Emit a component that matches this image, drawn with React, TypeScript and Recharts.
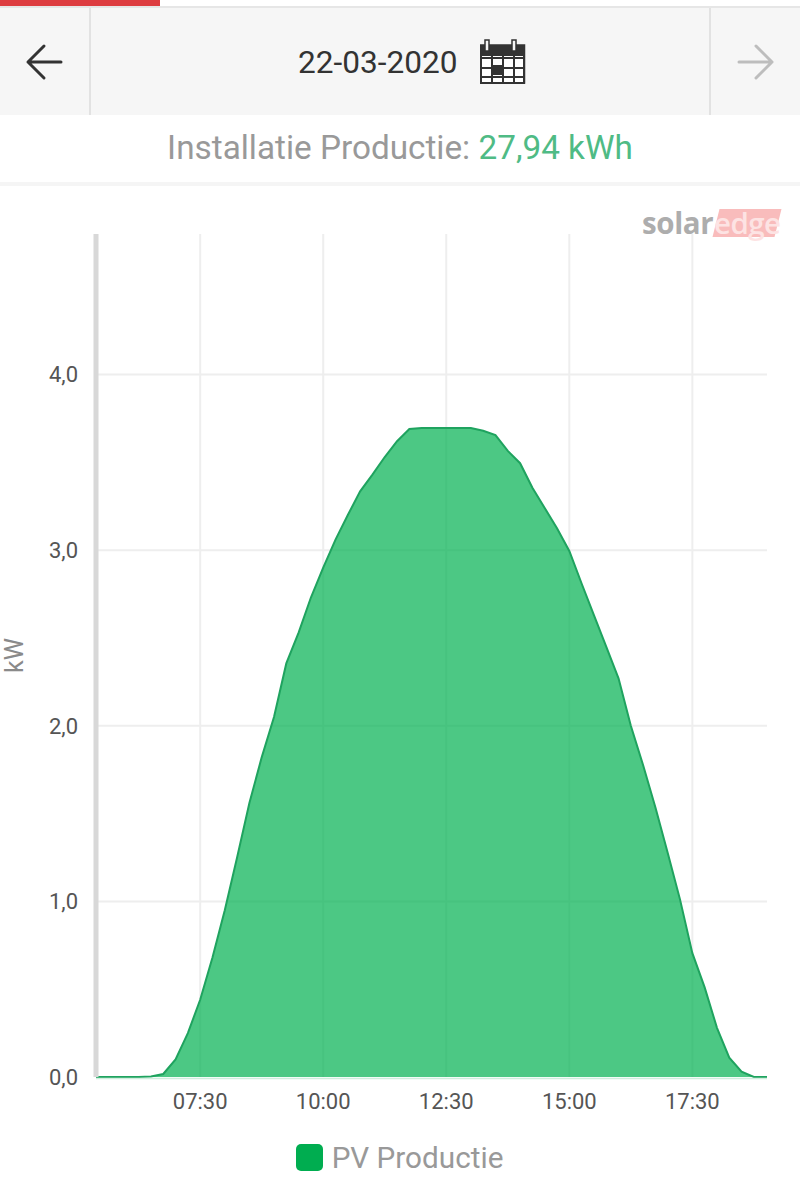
import React from "react";
import { ComposedChart, Area, XAxis, YAxis, CartesianGrid, Legend } from "recharts";

const times = ["05:23","06:15","06:30","06:45","07:00","07:15","07:30","07:45","08:00","08:15","08:30","08:45","09:00","09:15","09:30","09:45","10:00","10:15","10:30","10:45","11:00","11:15","11:30","11:45","12:00","12:15","12:30","12:45","13:00","13:15","13:30","13:45","14:00","14:15","14:30","14:45","15:00","15:15","15:30","15:45","16:00","16:15","16:30","16:45","17:00","17:15","17:30","17:45","18:00","18:15","18:30","18:45","19:01"];
const production = [0,0,0.003,0.017,0.10,0.25,0.44,0.68,0.95,1.25,1.56,1.82,2.05,2.355,2.53,2.73,2.90,3.06,3.20,3.335,3.43,3.53,3.62,3.69,3.695,3.695,3.695,3.695,3.695,3.68,3.655,3.565,3.495,3.355,3.24,3.125,2.995,2.81,2.63,2.45,2.27,2.0,1.775,1.535,1.275,1.01,0.705,0.51,0.28,0.11,0.03,0,0];
const xTickLabels = ["07:30","10:00","12:30","15:00","17:30"];
const yTicks = [0,1,2,3,4];
const gridYValues = [1,2,3,4];
const seriesName = "PV Productie";
const dateLabel = "22-03-2020";
const summaryLabel = "Installatie Productie:";
const summaryValue = "27,94 kWh";

const toMinutes = (s: string) => { const [h, m] = s.split(":").map(Number); return h * 60 + m; };
const pad = (n: number) => String(n).padStart(2, "0");
const toLabel = (v: number) => `${pad(Math.floor(v / 60))}:${pad(v % 60)}`;
const data = times.map((t, i) => ({ t: toMinutes(t), kw: production[i] }));

const font = "Roboto, sans-serif";
const abs = (s: React.CSSProperties): React.CSSProperties => ({ position: "absolute", ...s });

function Arrow({ x, color, flip }: { x: number; color: string; flip?: boolean }) {
  return (
    <svg width={40} height={40} style={abs({ left: x, top: 42, transform: flip ? "scaleX(-1)" : undefined })}>
      <path d="M36 20H3M19 4L3 20L19 36" fill="none" stroke={color} strokeWidth={3} strokeLinecap="round" strokeLinejoin="round" />
    </svg>
  );
}

function CalendarIcon() {
  const cols = [1, 12, 23, 34, 44];
  const rows = [19, 29, 38, 44];
  return (
    <svg width={46} height={46} style={abs({ left: 480, top: 39 })}>
      <rect x={0.5} y={6} width={44} height={38} fill="#fff" stroke="#333" strokeWidth={1.5} />
      <rect x={0} y={6} width={45} height={11} fill="#333" />
      <rect x={5} y={1} width={4} height={11} fill="#f6f6f6" stroke="#333" strokeWidth={1.5} />
      <rect x={32} y={1} width={4} height={11} fill="#f6f6f6" stroke="#333" strokeWidth={1.5} />
      {cols.map((c) => <line key={c} x1={c} x2={c} y1={17} y2={44} stroke="#333" strokeWidth={2} />)}
      {rows.map((r) => <line key={r} x1={0} x2={45} y1={r} y2={r} stroke="#333" strokeWidth={2} />)}
      <rect x={12} y={26} width={11} height={10} fill="#333" />
    </svg>
  );
}

function PvLegend({ payload }: any) {
  const entry = payload?.[0];
  return (
    <div style={{ display: "flex", alignItems: "center", justifyContent: "center", boxSizing: "border-box", height: 64, paddingBottom: 14, transform: "translateX(16px)", fontFamily: font }}>
      <span style={{ width: 27, height: 27, borderRadius: 5, background: "#00ad50", marginRight: 9 }} />
      <span style={{ fontSize: 29.7, color: "#999" }}>{entry?.value ?? seriesName}</span>
    </div>
  );
}

export default function App() {
  return (
    <div style={abs({ left: 0, top: 0, width: 800, height: 1196, background: "#fff", overflow: "hidden" })}>
      <div style={abs({ left: 0, top: 0, width: 160, height: 6, background: "#dd3c40" })} />
      <div style={abs({ left: 0, top: 6, width: 800, height: 2, background: "#e6e6e6" })} />
      <div style={abs({ left: 0, top: 8, width: 800, height: 107, background: "#f6f6f6" })} />
      <div style={abs({ left: 89, top: 8, width: 2, height: 107, background: "#e2e2e2" })} />
      <div style={abs({ left: 709, top: 8, width: 2, height: 107, background: "#e2e2e2" })} />
      <Arrow x={25} color="#333" />
      <Arrow x={735} color="#bdbdbd" flip />
      <div style={abs({ left: 298, top: 43, fontFamily: font, fontSize: 31.6, lineHeight: "40px", color: "#333" })}>{dateLabel}</div>
      <CalendarIcon />
      <div style={abs({ left: 0, top: 128, width: 800, textAlign: "center", fontFamily: font, fontSize: 33.3, lineHeight: "40px", color: "#999" })}>
        {summaryLabel} <span style={{ color: "#4fbb85" }}>{summaryValue}</span>
      </div>
      <div style={abs({ left: 0, top: 182, width: 800, height: 4, background: "#f5f5f5" })} />

      <div style={abs({ left: 716, top: 209, width: 62, height: 28, background: "#f9bcbc", transform: "skewX(-14deg)" })} />
      <div style={abs({ left: 642, top: 205, fontFamily: "Open Sans, sans-serif", fontWeight: 700, fontSize: 29.5, lineHeight: "36px", letterSpacing: -0.4, color: "#adadad" })}>solar</div>
      <div style={abs({ left: 714, top: 205, fontFamily: "Open Sans, sans-serif", fontWeight: 600, fontSize: 29.5, lineHeight: "36px", letterSpacing: -0.6, color: "#fde3e3" })}>edge</div>

      <div style={abs({ left: 0, top: 0 })}>
        <ComposedChart width={800} height={1196} data={data} margin={{ top: 234, right: 33, left: 0, bottom: 0 }}>
          <CartesianGrid
            stroke="#eeeeee"
            strokeWidth={2}
            horizontalValues={gridYValues}
            verticalValues={xTickLabels.map(toMinutes)}
          />
          <XAxis
            dataKey="t"
            type="number"
            domain={[323, 1141]}
            ticks={xTickLabels.map(toMinutes)}
            tickFormatter={toLabel}
            allowDataOverflow
            height={55}
            axisLine={{ stroke: "#cfeedd", strokeWidth: 1.5, transform: "translate(0,1.5)" }}
            tickLine={false}
            tickMargin={10}
            tick={{ fontFamily: font, fontSize: 22, fill: "#555" }}
          />
          <YAxis
            domain={[0, 4.8]}
            ticks={yTicks}
            width={96}
            tickFormatter={(v: number) => v.toFixed(1).replace(".", ",")}
            axisLine={{ stroke: "#d8d8d8", strokeWidth: 5 }}
            tickLine={false}
            tickMargin={12}
            tick={{ fontFamily: font, fontSize: 22, fill: "#555" }}
            label={{ value: "kW", angle: -90, position: "insideLeft", offset: 14, style: { fontFamily: font, fontSize: 25, fill: "#8a8a8a", textAnchor: "middle" } }}
          />
          <Legend verticalAlign="bottom" content={<PvLegend />} />
          <Area
            type="linear"
            dataKey="kw"
            name={seriesName}
            stroke="#1fa35f"
            strokeWidth={2}
            fill="#00b050"
            fillOpacity={0.7}
            dot={false}
            activeDot={false}
            isAnimationActive={false}
          />
        </ComposedChart>
      </div>
    </div>
  );
}
